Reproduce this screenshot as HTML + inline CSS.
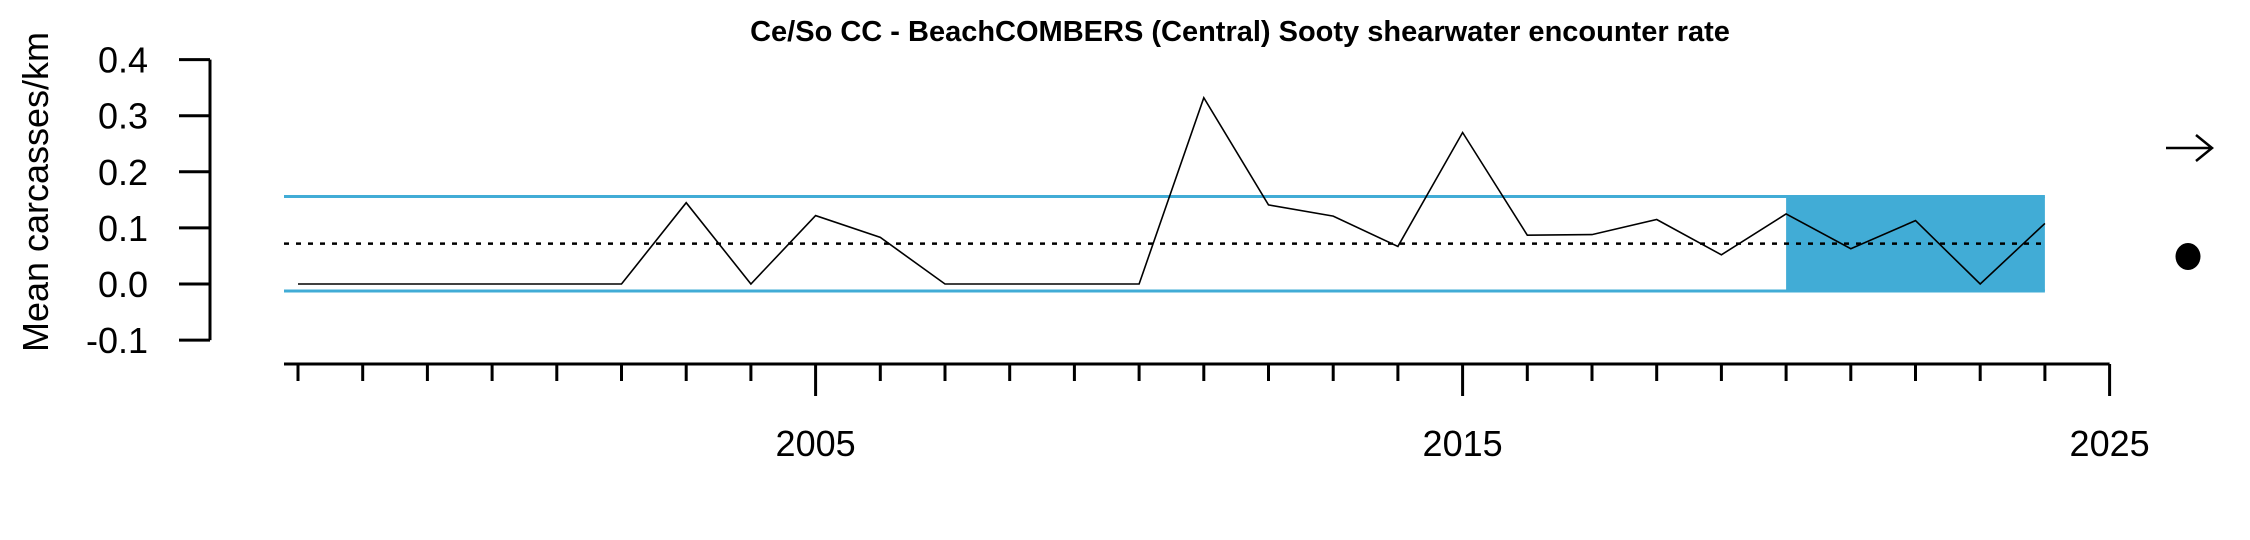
<!DOCTYPE html>
<html><head><meta charset="utf-8"><style>
html,body{margin:0;padding:0;background:#fff;}
svg{display:block;font-family:"Liberation Sans",Arial,sans-serif;}
</style></head><body>
<svg id="chart" width="2250" height="540" viewBox="0 0 2250 540" xmlns="http://www.w3.org/2000/svg">
<text x="1240" y="41" font-size="29" font-weight="bold" text-anchor="middle">Ce/So CC - BeachCOMBERS (Central) Sooty shearwater encounter rate</text>
<text transform="translate(48,192) rotate(-90)" font-size="36" text-anchor="middle">Mean carcasses/km</text>
<g id="plot"></g>
</svg>
<script>
const years = [1997,1998,1999,2000,2001,2002,2003,2004,2005,2006,2007,2008,2009,2010,2011,2012,2013,2014,2015,2016,2017,2018,2019,2020,2021,2022,2023,2024];
const values = [0,0,0,0,0,0,0.145,0,0.122,0.083,0,0,0,0,0.332,0.141,0.121,0.067,0.27,0.087,0.088,0.115,0.052,0.125,0.063,0.113,0,0.108];
const yTicks = [-0.1,0,0.1,0.2,0.3,0.4];
const yTickLabels = ["-0.1","0.0","0.1","0.2","0.3","0.4"];
const xMajor = [2005,2015,2025];
const meanValue = 0.072;
const upperBand = 0.156;
const lowerBand = -0.0125;
const shadeStart = 2020;
const shadeEnd = 2024;

const NS = "http://www.w3.org/2000/svg";
const g = document.getElementById('plot');
function X(yr){ return 298 + (yr-1997)*64.7; }
function Y(v){ return 284 - v*561; }
function mk(tag, attrs){ const e=document.createElementNS(NS,tag); for(const k in attrs) e.setAttribute(k,attrs[k]); g.appendChild(e); return e; }

// shaded recent period
let r = mk('rect',{x:X(shadeStart),y:Y(upperBand),width:X(shadeEnd)-X(shadeStart),height:Y(lowerBand)-Y(upperBand),fill:'#41acd6'});



// band lines
let ub = mk('line',{x1:X(1997)-14,x2:X(2024),y1:Y(upperBand),y2:Y(upperBand),stroke:'#41acd6','stroke-width':3});


let lb = mk('line',{x1:X(1997)-14,x2:X(2024),y1:Y(lowerBand),y2:Y(lowerBand),stroke:'#41acd6','stroke-width':3});



// mean dotted
let ml = mk('line',{x1:X(1997)-14,x2:X(2024),y1:Y(meanValue),y2:Y(meanValue),stroke:'#000','stroke-width':2.5,'stroke-dasharray':'5 7'});



// series
let pts = years.map((y,i)=>X(y).toFixed(1)+','+Y(values[i]).toFixed(1)).join(' ');
let pl = mk('polyline',{points:pts,fill:'none',stroke:'#000','stroke-width':1.6});



// y axis
let ya = mk('line',{x1:210,x2:210,y1:Y(0.4),y2:Y(-0.1),stroke:'#000','stroke-width':3});


yTicks.forEach((v,i)=>{
  let t = mk('line',{x1:179,x2:210,y1:Y(v),y2:Y(v),stroke:'#000','stroke-width':3});
  
  
  let l = mk('text',{x:148,y:Y(v)+13,'font-size':36,'text-anchor':'end'});
  l.textContent = yTickLabels[i];
  
  
});

// x axis
let xa = mk('line',{x1:284,x2:X(2025),y1:364,y2:364,stroke:'#000','stroke-width':3});


for(let yr=1997; yr<=2025; yr++){
  const major = xMajor.includes(yr);
  let t = mk('line',{x1:X(yr),x2:X(yr),y1:364,y2:major?396:381,stroke:'#000','stroke-width':3});
  
  
}
xMajor.forEach(yr=>{
  let l = mk('text',{x:X(yr),y:456,'font-size':36,'text-anchor':'middle'});
  l.textContent = yr;
  
  
});

// trend indicators
let ar = mk('path',{d:'M2166 148 L2212 148 M2196 135 L2212 148 L2196 161',fill:'none',stroke:'#000','stroke-width':2.5});


let dt = mk('ellipse',{cx:2188,cy:256.5,rx:12.5,ry:13.5,fill:'#000'});


</script>
</body></html>
